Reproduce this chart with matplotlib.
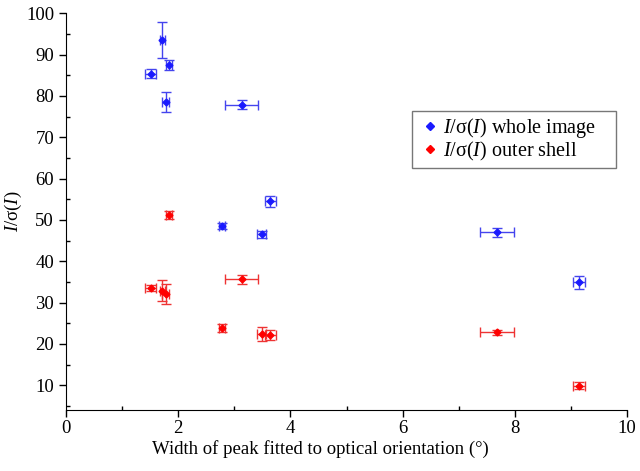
import matplotlib
matplotlib.use('Agg')
import matplotlib.pyplot as plt
import numpy as np
from matplotlib.ticker import MultipleLocator

plt.rcParams['font.family'] = ['Liberation Serif', 'DejaVu Serif']
plt.rcParams['mathtext.fontset'] = 'custom'
plt.rcParams['mathtext.rm'] = 'Liberation Serif'
plt.rcParams['mathtext.it'] = 'Liberation Serif:italic'

# peak width per sample (deg) and its error
width = [1.51, 1.72, 1.78, 3.13, 1.84, 2.78, 3.49, 3.64, 7.68, 9.14]
width_err = [0.10, 0.04, 0.06, 0.29, 0.05, 0.06, 0.08, 0.10, 0.30, 0.10]

# I/sigma(I) whole image
whole = [85.4, 93.5, 78.5, 77.9, 87.4, 48.5, 46.5, 54.5, 47.0, 34.9]
whole_err = [1.0, 4.4, 2.4, 1.1, 1.2, 0.8, 0.8, 1.3, 1.1, 1.6]

# I/sigma(I) outer shell
outer = [33.5, 32.9, 32.1, 35.6, 51.2, 23.9, 22.5, 22.1, 22.8, 9.9]
outer_err = [0.8, 2.5, 2.4, 1.0, 1.0, 1.0, 1.7, 1.2, 0.6, 0.9]

fig = plt.figure(figsize=(6.4, 4.71), dpi=100)
ax = fig.add_axes([0.103, 0.1295, 0.877, 0.8425])

ax.errorbar(width, whole, xerr=width_err, yerr=whole_err, fmt='none',
            ecolor='#4444ee', elinewidth=1, capsize=3.5, capthick=1)
ax.plot(width, whole, 'D', color='#1a1aff', markersize=3.5,
        label=r'$I$/σ($I$) whole image')
ax.errorbar(width, outer, xerr=width_err, yerr=outer_err, fmt='none',
            ecolor='#ee3333', elinewidth=1, capsize=3.5, capthick=1)
ax.plot(width, outer, 'D', color='#ff0000', markersize=3.5,
        label=r'$I$/σ($I$) outer shell')

ax.set_xlim(0, 10)
ax.set_ylim(4, 100)
ax.xaxis.set_major_locator(MultipleLocator(2))
ax.xaxis.set_minor_locator(MultipleLocator(1))
ax.yaxis.set_major_locator(MultipleLocator(10))
ax.yaxis.set_minor_locator(MultipleLocator(5))
ax.tick_params(which='major', direction='out', length=5, labelsize=13.5, width=1)
ax.tick_params(axis='x', which='major', pad=2)
ax.tick_params(which='minor', direction='in', length=3, width=1)

ax.spines['top'].set_visible(False)
ax.spines['right'].set_visible(False)

ax.set_xlabel('Width of peak fitted to optical orientation (°)', fontsize=13.5)
ax.xaxis.set_label_coords(0.453, -0.075)
ax.set_ylabel(r'$I$/σ($I$)', fontsize=13.5)
ax.yaxis.set_label_coords(-0.075, 0.5)

leg = ax.legend(loc='upper left', bbox_to_anchor=(0.616, 0.627, 0.364, 0.127),
                mode='expand', borderaxespad=0, fontsize=14.5,
                handlelength=1.3, handletextpad=0.0, borderpad=0.25,
                labelspacing=0.0, fancybox=False, markerscale=1.2)
leg.get_frame().set_edgecolor('#555555')
leg.get_frame().set_linewidth(1)

fig.savefig('out.png', dpi=100)
